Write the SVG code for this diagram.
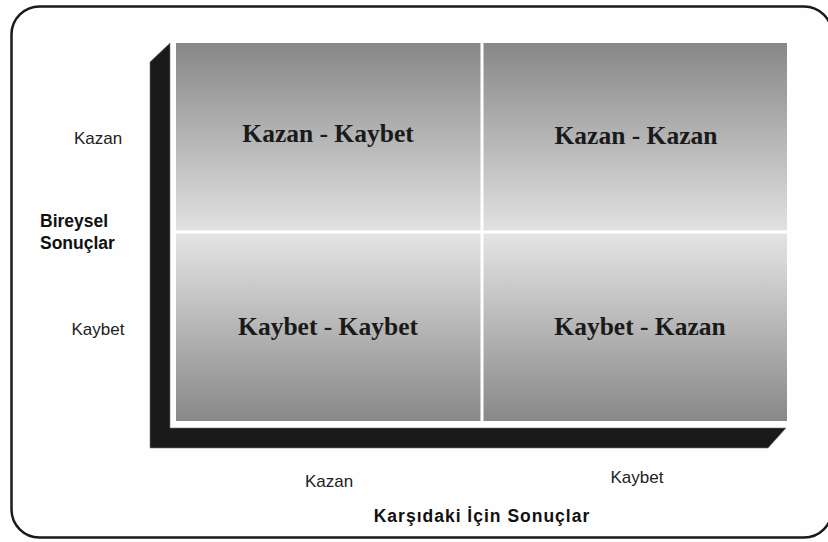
<svg xmlns="http://www.w3.org/2000/svg" width="828" height="542" viewBox="0 0 828 542">
  <style>
    .axis { font-family: "Liberation Sans", "DejaVu Sans", sans-serif; font-size: 17px; fill: #222; }
    .title { font-family: "Liberation Sans", "DejaVu Sans", sans-serif; font-size: 17.5px; font-weight: bold; fill: #111; }
    .cell { font-family: "Liberation Serif", "DejaVu Serif", serif; font-size: 25.5px; font-weight: bold; fill: #1a1a1a; text-anchor: middle; }
    .divider { stroke: #ffffff; stroke-width: 5; }
  </style>
  <defs>
    <linearGradient id="gradTop" x1="0" y1="0" x2="0" y2="1">
      <stop offset="0" stop-color="#878787"/>
      <stop offset="1" stop-color="#e2e2e2"/>
    </linearGradient>
    <linearGradient id="gradBottom" x1="0" y1="0" x2="0" y2="1">
      <stop offset="0" stop-color="#e6e5e5"/>
      <stop offset="1" stop-color="#888888"/>
    </linearGradient>
    <filter id="glow" x="-5%" y="-5%" width="110%" height="110%">
      <feGaussianBlur stdDeviation="1"/>
    </filter>
  </defs>

  <rect width="828" height="542" fill="#ffffff"/>

  <!-- outer frame -->
  <rect x="11.5" y="6.5" width="820.5" height="531" rx="28" ry="28" fill="#fefefe" stroke="#1a1a1a" stroke-width="2.5"/>

  <!-- black L-shaped axis block -->
  <g id="axis-block">
    <path d="M150,62 L170,43 L170,428 L786,428 L768,448 L150,448 Z" fill="#1a1a1a" stroke="#777" stroke-width="0.6"/>
  </g>

  <!-- quadrants -->
  <g id="quadrant-kazan-kaybet">
    <rect x="176" y="43" width="306" height="189" fill="url(#gradTop)"/>
    <text class="cell" x="328" y="142">Kazan - Kaybet</text>
  </g>
  <g id="quadrant-kazan-kazan">
    <rect x="482" y="43" width="305" height="189" fill="url(#gradTop)"/>
    <text class="cell" x="636" y="144">Kazan - Kazan</text>
  </g>
  <g id="quadrant-kaybet-kaybet">
    <rect x="176" y="232" width="306" height="189" fill="url(#gradBottom)"/>
    <text class="cell" x="328" y="335">Kaybet - Kaybet</text>
  </g>
  <g id="quadrant-kaybet-kazan">
    <rect x="482" y="232" width="305" height="189" fill="url(#gradBottom)"/>
    <text class="cell" x="640" y="335">Kaybet - Kazan</text>
  </g>

  <!-- white dividers between quadrants -->
  <g id="connectors">
    <line class="divider" x1="482" y1="43" x2="482" y2="421" filter="url(#glow)"/>
    <line class="divider" x1="176" y1="232" x2="787" y2="232" filter="url(#glow)"/>
    <line x1="482" y1="43" x2="482" y2="421" stroke="#ffffff" stroke-width="3"/>
    <line x1="176" y1="232" x2="787" y2="232" stroke="#ffffff" stroke-width="3"/>
  </g>

  <!-- axis labels -->
  <g id="label-y-kazan"><text class="axis" x="98" y="144" text-anchor="middle">Kazan</text></g>
  <g id="label-y-kaybet"><text class="axis" x="98" y="335" text-anchor="middle">Kaybet</text></g>
  <g id="label-y-title">
    <text class="title" x="40" y="227">Bireysel</text>
    <text class="title" x="40" y="249">Sonuçlar</text>
  </g>
  <g id="label-x-kazan"><text class="axis" x="329" y="487" text-anchor="middle">Kazan</text></g>
  <g id="label-x-kaybet"><text class="axis" x="637" y="483" text-anchor="middle">Kaybet</text></g>
  <g id="label-x-title"><text class="title" x="482" y="522" text-anchor="middle" letter-spacing="1">Karşıdaki İçin Sonuçlar</text></g>
</svg>
